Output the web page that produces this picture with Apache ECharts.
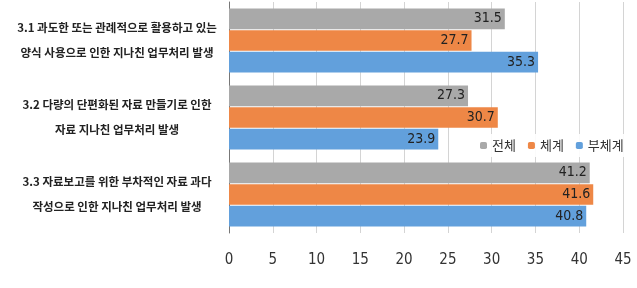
<!DOCTYPE html>
<html>
<head>
<meta charset="utf-8">
<script src="https://cdn.jsdelivr.net/npm/echarts@6/dist/echarts.min.js"></script>
<style>
  html, body { margin: 0; padding: 0; background: #fff; }
  #chart { width: 637px; height: 288px; }
</style>
</head>
<body>
<div id="chart"></div>
<script>
const categories = [
  "3.1 과도한 또는 관례적으로 활용하고 있는\n양식 사용으로 인한 지나친 업무처리 발생",
  "3.2 다량의 단편화된 자료 만들기로 인한\n자료 지나친 업무처리 발생",
  "3.3 자료보고를 위한 부차적인 자료 과다\n작성으로 인한 지나친 업무처리 발생"
];
const seriesNames = ["전체", "체계", "부체계"];
const totalValues = [31.5, 27.3, 41.2];
const systemValues = [27.7, 30.7, 41.6];
const subSystemValues = [35.3, 23.9, 40.8];
const colors = ["#a9a9a9", "#ee8746", "#62a0dc"];

const narrow = "'Liberation Sans Narrow', 'DejaVu Sans Condensed', 'Liberation Sans', sans-serif";
const chart = echarts.init(document.getElementById("chart"));

const makeSeries = (name, data, color) => ({
  name: name,
  type: "bar",
  data: data,
  barGap: "5%",
  barCategoryGap: "17%",
  itemStyle: { color: color },
  label: {
    show: true,
    position: "insideRight",
    distance: 3,
    color: "#222",
    fontFamily: narrow,
    fontSize: 14
  }
});

chart.setOption({
  animation: false,
  grid: { left: 229, right: 14, top: 2, bottom: 55 },
  legend: {
    data: seriesNames,
    left: 472,
    top: 134,
    padding: [5, 8],
    itemGap: 12,
    itemWidth: 7,
    itemHeight: 7,
    backgroundColor: "rgba(255,255,255,0.9)",
    textStyle: { fontFamily: "'Noto Sans CJK KR', sans-serif", fontSize: 13, color: "#333" }
  },
  xAxis: {
    type: "value",
    min: 0,
    max: 45,
    interval: 5,
    axisLine: { show: false },
    axisTick: { show: false },
    splitLine: { lineStyle: { color: "#d4d4d4" } },
    axisLabel: {
      margin: 20,
      color: "#333",
      fontFamily: narrow,
      fontSize: 15
    }
  },
  yAxis: {
    type: "category",
    inverse: true,
    data: categories,
    axisLine: { lineStyle: { color: "#777", width: 1 } },
    axisTick: { show: false },
    axisLabel: {
      align: "center",
      margin: 112,
      lineHeight: 25,
      color: "#222",
      fontWeight: "bold",
      fontFamily: "'Noto Sans CJK KR', sans-serif",
      fontSize: 11.5
    }
  },
  series: [
    makeSeries(seriesNames[0], totalValues, colors[0]),
    makeSeries(seriesNames[1], systemValues, colors[1]),
    makeSeries(seriesNames[2], subSystemValues, colors[2])
  ]
});
</script>
</body>
</html>
